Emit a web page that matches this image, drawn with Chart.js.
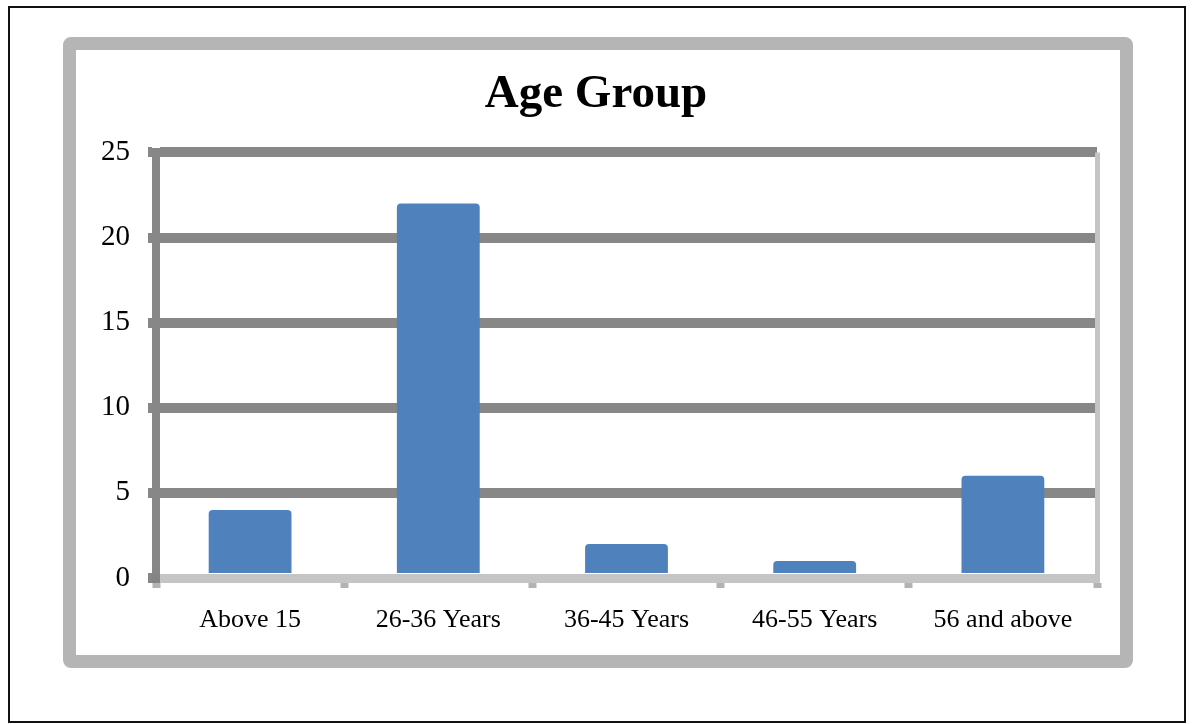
<!DOCTYPE html>
<html>
<head>
<meta charset="utf-8">
<script src="https://cdn.jsdelivr.net/npm/chart.js@4"></script>
<style>
  html, body { margin: 0; padding: 0; background: #fff; }
  body { width: 1192px; height: 724px; position: relative; overflow: hidden; }
  .page { position: absolute; left: 8px; top: 6px; width: 1174px; height: 713px; border: 2px solid #111; }
  .frame { position: absolute; left: 63px; top: 37px; width: 1044px; height: 605px;
           border: 13px solid #b5b5b5; border-radius: 8px; }
  #chart { position: absolute; left: 0; top: 0; }
</style>
</head>
<body>
<div class="page"></div>
<div class="frame"></div>
<canvas id="chart" width="1192" height="724"></canvas>
<script>
const categories = ['Above 15', '26-36 Years', '36-45 Years', '46-55 Years', '56 and above'];
const counts = [4, 22, 2, 1, 6];
const yTicks = [0, 5, 10, 15, 20, 25];

const serif = '"Liberation Serif", "Times New Roman", serif';

new Chart(document.getElementById('chart'), {
  type: 'bar',
  data: {
    labels: categories,
    datasets: [{
      label: 'Age Group',
      data: counts,
      backgroundColor: '#4f81bd',
      borderRadius: { topLeft: 4, topRight: 4 },
      borderSkipped: 'bottom',
      barPercentage: 0.44,
      categoryPercentage: 1
    }]
  },
  options: {
    responsive: false,
    animation: false,
    // equal side padding keeps the title centred on the page
    layout: { padding: { left: 95, right: 95, top: 0, bottom: 0 } },
    plugins: {
      legend: { display: false },
      tooltip: { enabled: false },
      title: {
        display: true,
        text: 'Age Group',
        color: '#000',
        font: { family: serif, size: 47, weight: 'bold' },
        padding: { top: 67, bottom: 29 }
      }
    },
    scales: {
      y: {
        min: 0,
        max: 25,
        afterBuildTicks: s => { s.ticks = yTicks.map(v => ({ value: v })); },
        afterFit: s => { s.width = 61; },
        border: { color: '#878787', width: 8 },
        grid: {
          color: c => (c.tick && c.tick.value === 0) ? 'rgba(0,0,0,0)' : '#878787',
          lineWidth: 10,
          tickLength: 8,
          tickColor: '#878787',
          tickWidth: 10
        },
        ticks: {
          color: '#000',
          padding: 18,
          font: { family: serif, size: 29 }
        }
      },
      x: {
        afterFit: s => { s.height = 146; },
        // translucent base line drawn over the foot of the bars
        border: { color: 'rgba(128,128,128,0.46)', width: 9, z: 1 },
        grid: {
          offset: true,
          drawOnChartArea: true,
          // only the closing line on the right edge is shown
          color: c => c.tick ? 'rgba(0,0,0,0)' : '#c4c4c4',
          lineWidth: 5,
          tickLength: 10,
          tickColor: '#b3b3b3',
          tickWidth: 8
        },
        ticks: {
          color: '#000',
          padding: 17,
          font: { family: serif, size: 26 }
        }
      }
    }
  }
});
</script>
</body>
</html>
